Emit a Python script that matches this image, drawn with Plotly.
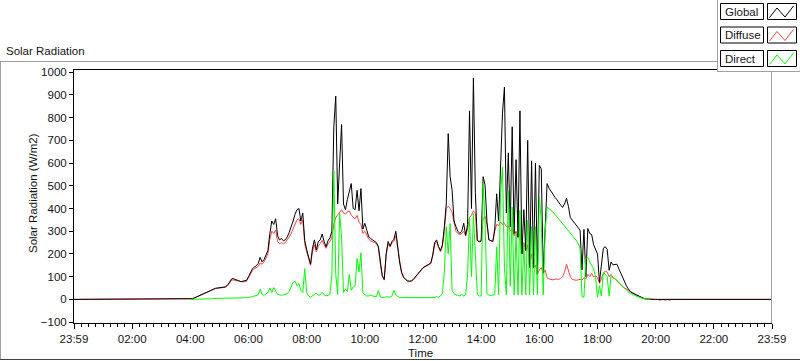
import plotly.graph_objects as go

# ---------------- data ----------------
DAY_START_MIN = 240          # 04:00, first daytime sample
STEP_MIN = 4                 # sample spacing in minutes
NIGHT_BEFORE = 0.0           # 23:59 (start of axis), hours
NIGHT_AFTER = 24.0           # 23:59 (end of axis), hours

x_tick_hours = [0, 2, 4, 6, 8, 10, 12, 14, 16, 18, 20, 22, 24]
x_tick_labels = ["23:59", "02:00", "04:00", "06:00", "08:00", "10:00", "12:00",
                 "14:00", "16:00", "18:00", "20:00", "22:00", "23:59"]
y_ticks = [-100, 0, 100, 200, 300, 400, 500, 600, 700, 800, 900, 1000]

global_rad = (
    [0, 3, 6, 10, 14, 17, 21, 24, 27, 32, 38, 42, 46]
    + [49, 50, 51, 51, 52, 55, 62, 72]
    + [88, 92, 88, 86, 82, 78, 79, 80, 84]
    + [100, 118, 135, 142, 148, 158, 185, 165, 175, 195, 215]
    + [290, 345, 330, 355]
    + [280, 262, 268, 258, 262, 275]
    + [295, 318, 345, 375, 395, 400, 345, 380]
    + [260, 220, 185, 155]
    + [225, 262, 218, 255, 262, 288, 255, 232, 258, 272, 300]
    + [760, 895, 420, 600, 770]
    + [420, 395, 440, 470, 510, 400, 395, 480, 390, 488]
    + [310, 335, 300, 275, 268, 262, 258, 250, 232]
    + [160, 105, 88]
    + [200, 255, 235, 255, 265, 300, 225]
    + [160, 118, 98, 88, 82, 80, 82, 88, 98, 108, 120, 130, 140, 145, 150, 155, 160]
    + [195, 250, 262, 232, 215, 240, 320]
    + [420, 730, 540, 480]
    + [345, 320, 300, 290, 300, 335, 282, 330]
    + [830, 400, 975, 470]
    + [260, 255, 258]
    + [540, 505, 340, 262, 258, 255]
    + [310, 465, 345, 610, 820, 935, 380, 645, 320, 760, 290, 615, 275, 830]
    + [200, 395, 215, 700, 140, 610, 140, 600, 110, 590, 575, 115, 320]
    + [510, 490, 475, 462, 450, 440, 425, 415, 405, 420, 445, 410, 360, 348, 340, 325, 312, 305]
    + [130, 308, 100, 312, 290, 285, 240, 215, 200]
    + [75, 160, 225, 232, 220, 128, 165, 152, 155, 155]
    + [135, 115, 95, 78, 58, 45, 33, 28, 24, 18, 14, 9, 6, 4, 2, 1]
    + [0, 0, 0, 0, 0, 0, 0, 0, 0, 0, 0, 0, 0, 0]
)

diffuse_rad = (
    [0, 3, 6, 10, 14, 17, 21, 24, 27, 32, 38, 42, 46]
    + [48, 49, 50, 50, 51, 53, 58, 68]
    + [82, 86, 84, 82, 78, 76, 77, 78, 80]
    + [95, 110, 128, 135, 140, 145, 160, 155, 165, 180, 200]
    + [265, 300, 290, 305]
    + [255, 245, 250, 245, 250, 260]
    + [275, 290, 310, 330, 350, 355, 330, 350]
    + [245, 210, 180, 150]
    + [210, 240, 210, 235, 245, 260, 240, 225, 245, 255, 275]
    + [330, 360, 370, 385, 395]
    + [380, 375, 385, 390, 370, 360, 355, 370, 340, 330]
    + [290, 300, 280, 265, 258, 255, 250, 245, 228]
    + [155, 100, 85]
    + [195, 245, 230, 250, 255, 280, 220]
    + [155, 115, 96, 86, 80, 78, 80, 86, 96, 106, 118, 128, 138, 143, 148, 152, 157]
    + [190, 240, 255, 228, 210, 232, 300]
    + [400, 410, 400, 385]
    + [340, 300, 290, 285, 290, 300, 280, 310]
    + [360, 370, 390, 380]
    + [258, 253, 256]
    + [355, 365, 330, 262, 258, 255]
    + [300, 330, 325, 340, 330, 335, 320, 325, 300, 310, 280, 300, 270, 285]
    + [200, 250, 215, 240, 140, 200, 140, 150, 110, 130, 140, 115, 130]
    + [95, 90, 88, 86, 88, 90, 88, 92, 100]
    + [120, 155, 130, 100]
    + [88, 85, 84, 86, 88, 85, 95, 90, 110, 100, 115, 98, 105, 95, 70, 90, 115, 125, 120, 100,
       110, 95, 92, 80, 70, 62, 55, 50, 45, 38, 32, 28, 24, 18, 13, 9, 6, 4, 2, 1]
    + [0, 0, 0, 0, 0, -4, -3, 0, -4, 0, -4, 0, 0, 0]
)

direct_rad = (
    [0, 0, 1, 1, 1, 2, 2, 2, 3, 3, 3, 3, 4, 4, 4, 4, 4, 5, 5, 5, 5, 5, 6, 6, 6, 6, 6, 7, 7, 8]
    + [8, 10, 12, 15, 18, 20, 45, 22, 18, 25, 30]
    + [50, 30, 52, 35]
    + [22, 20, 18, 20, 22, 25]
    + [35, 55, 75, 80, 60, 70, 40, 30]
    + [135, 30, 15, 10]
    + [18, 22, 28, 18, 20, 31, 20, 15, 18, 22, 110]
    + [565, 110, 22, 380, 275]
    + [30, 45, 35, 110, 40, 55, 60, 180, 120, 205]
    + [28, 20, 15, 15, 18, 15, 15, 12, 40]
    + [10, 8, 8, 12, 10, 10, 15, 40, 20, 12, 8, 8, 8, 8, 8, 8, 8, 8, 8, 8, 8, 10, 10, 10, 10, 8, 10]
    + [10, 8, 12, 10, 15, 25, 120]
    + [320, 200, 334, 40]
    + [25, 20, 18, 15, 22, 15, 20, 113]
    + [363, 100, 378, 172]
    + [22, 15, 15]
    + [510, 348, 25, 18, 18, 20]
    + [20, 231, 20, 466, 583, 140, 20, 480, 60, 407, 20, 290, 20, 392]
    + [20, 245, 20, 348, 20, 320, 20, 320, 20, 451, 348, 20, 300]
    + [407, 400, 395, 385, 375, 365, 350, 340, 330, 320, 310, 300, 290, 280, 270, 260, 245, 225]
    + [12, 10, 180, 185, 165, 150, 135, 100, 10]
    + [60, 15, 120, 110, 100, 15, 105, 95, 90, 85]
    + [75, 65, 55, 45, 40, 32, 26, 22, 18, 14, 10, 7, 5, 3, 2, 1]
    + [0]
)

day_hours = [(DAY_START_MIN + STEP_MIN * i) / 60.0 for i in range(len(global_rad))]
assert len(global_rad) == len(diffuse_rad), (len(global_rad), len(diffuse_rad))

# ---------------- geometry helpers (pixels -> paper) ----------------
W, H = 800, 361
L, R, T, B = 74, 772, 70, 323
PW, PH = R - L, B - T


def px(x):
    return (x - L) / PW


def py(y):
    return (B - y) / PH


FONT = "Liberation Sans, Arial, sans-serif"
TXT = "#141414"

fig = go.Figure()

# diffuse drawn first so the global line sits on top where they coincide
fig.add_trace(go.Scatter(
    x=[NIGHT_BEFORE] + day_hours + [NIGHT_AFTER], y=[0] + diffuse_rad + [0],
    mode="lines", line=dict(color="#ff4040", width=1), name="Diffuse"))
fig.add_trace(go.Scatter(
    x=[NIGHT_BEFORE] + day_hours + [NIGHT_AFTER], y=[0] + global_rad + [0],
    mode="lines", line=dict(color="#000000", width=1), name="Global"))
fig.add_trace(go.Scatter(
    x=day_hours[:len(direct_rad)], y=direct_rad,
    mode="lines", line=dict(color="#00ff00", width=1), name="Direct"))

shapes = []
# outer frame
shapes.append(dict(type="line", xref="paper", yref="paper",
                   x0=px(0), x1=px(717), y0=py(61.5), y1=py(61.5),
                   line=dict(color="#a0a0a0", width=1), layer="above"))
shapes.append(dict(type="line", xref="paper", yref="paper",
                   x0=px(0.5), x1=px(0.5), y0=py(61.5), y1=py(360),
                   line=dict(color="#a0a0a0", width=1), layer="above"))
shapes.append(dict(type="line", xref="paper", yref="paper",
                   x0=px(0), x1=px(800), y0=py(359.5), y1=py(359.5),
                   line=dict(color="#404040", width=1), layer="above"))
# right plot border (gray)
shapes.append(dict(type="line", xref="paper", yref="paper",
                   x0=px(771.5), x1=px(771.5), y0=py(70), y1=py(323),
                   line=dict(color="#a0a0a0", width=1), layer="above"))
# legend panel
shapes.append(dict(type="rect", xref="paper", yref="paper",
                   x0=px(717.5), x1=px(801), y0=py(72), y1=py(-1),
                   fillcolor="white", line=dict(width=0), layer="above"))
shapes.append(dict(type="line", xref="paper", yref="paper",
                   x0=px(717.5), x1=px(717.5), y0=py(0), y1=py(72),
                   line=dict(color="#a0a0a0", width=1), layer="above"))
shapes.append(dict(type="line", xref="paper", yref="paper",
                   x0=px(717.5), x1=px(800), y0=py(71.5), y1=py(71.5),
                   line=dict(color="#a0a0a0", width=1), layer="above"))

legend_names = ["Global", "Diffuse", "Direct"]
legend_colors = ["#000000", "#ff4040", "#00ff00"]
annotations = []
for k, (name, col) in enumerate(zip(legend_names, legend_colors)):
    top = 3.5 + 23.5 * k
    bot = top + 16
    shapes.append(dict(type="rect", xref="paper", yref="paper",
                       x0=px(720.5), x1=px(763.5), y0=py(bot), y1=py(top),
                       line=dict(color="#000000", width=1), fillcolor="white", layer="above"))
    shapes.append(dict(type="rect", xref="paper", yref="paper",
                       x0=px(767.5), x1=px(796.5), y0=py(bot), y1=py(top),
                       line=dict(color="#000000", width=1), fillcolor="white", layer="above"))
    pts = [(769.5, top + 14), (777, top + 4.5), (785, top + 13.5), (793.5, top + 2.5)]
    path = "M " + " L ".join(f"{px(a):.5f},{py(b):.5f}" for a, b in pts)
    shapes.append(dict(type="path", xref="paper", yref="paper", path=path,
                       line=dict(color=col, width=1), layer="above"))
    annotations.append(dict(xref="paper", yref="paper", x=px(722.5), y=py(top + 8),
                            text=name, showarrow=False, xanchor="left", yanchor="middle",
                            font=dict(family=FONT, size=11.5, color=TXT)))

annotations.append(dict(xref="paper", yref="paper", x=px(4), y=py(50.5),
                        text="Solar Radiation", showarrow=False, xanchor="left",
                        yanchor="middle", font=dict(family=FONT, size=11.5, color=TXT)))
annotations.append(dict(xref="paper", yref="paper", x=px(33), y=py(193),
                        text="Solar Radiation (W/m2)", showarrow=False, textangle=-90,
                        xanchor="center", yanchor="middle",
                        font=dict(family=FONT, size=11.5, color=TXT)))
annotations.append(dict(xref="paper", yref="paper", x=px(420.5), y=py(353),
                        text="Time", showarrow=False, xanchor="center", yanchor="middle",
                        font=dict(family=FONT, size=11.5, color=TXT)))

fig.update_layout(
    width=W, height=H,
    margin=dict(l=L, r=W - R, t=T, b=H - B, pad=0),
    paper_bgcolor="white", plot_bgcolor="white",
    showlegend=False, hovermode=False,
    shapes=shapes, annotations=annotations,
    xaxis=dict(range=[0, 24], tickmode="array", tickvals=x_tick_hours, ticktext=x_tick_labels,
               ticks="outside", ticklen=5, tickcolor="#000000", tickwidth=1,
               showline=True, linecolor="#000000", linewidth=1, mirror=True,
               showgrid=False, zeroline=False,
               tickfont=dict(family=FONT, size=11.5, color=TXT),
               minor=dict(dtick=0.25, ticks="outside", ticklen=3, tickcolor="#000000",
                          showgrid=False)),
    yaxis=dict(range=[-104, 1010], tickmode="array", tickvals=y_ticks,
               ticks="outside", ticklen=4, tickcolor="#000000", tickwidth=1,
               showline=True, linecolor="#000000", linewidth=1,
               showgrid=False, zeroline=False,
               tickfont=dict(family=FONT, size=11.5, color=TXT)),
)

fig.write_html("out.html", config={"displayModeBar": False, "staticPlot": True},
               post_script="document.body.style.margin='0';document.body.style.overflow='hidden';")
